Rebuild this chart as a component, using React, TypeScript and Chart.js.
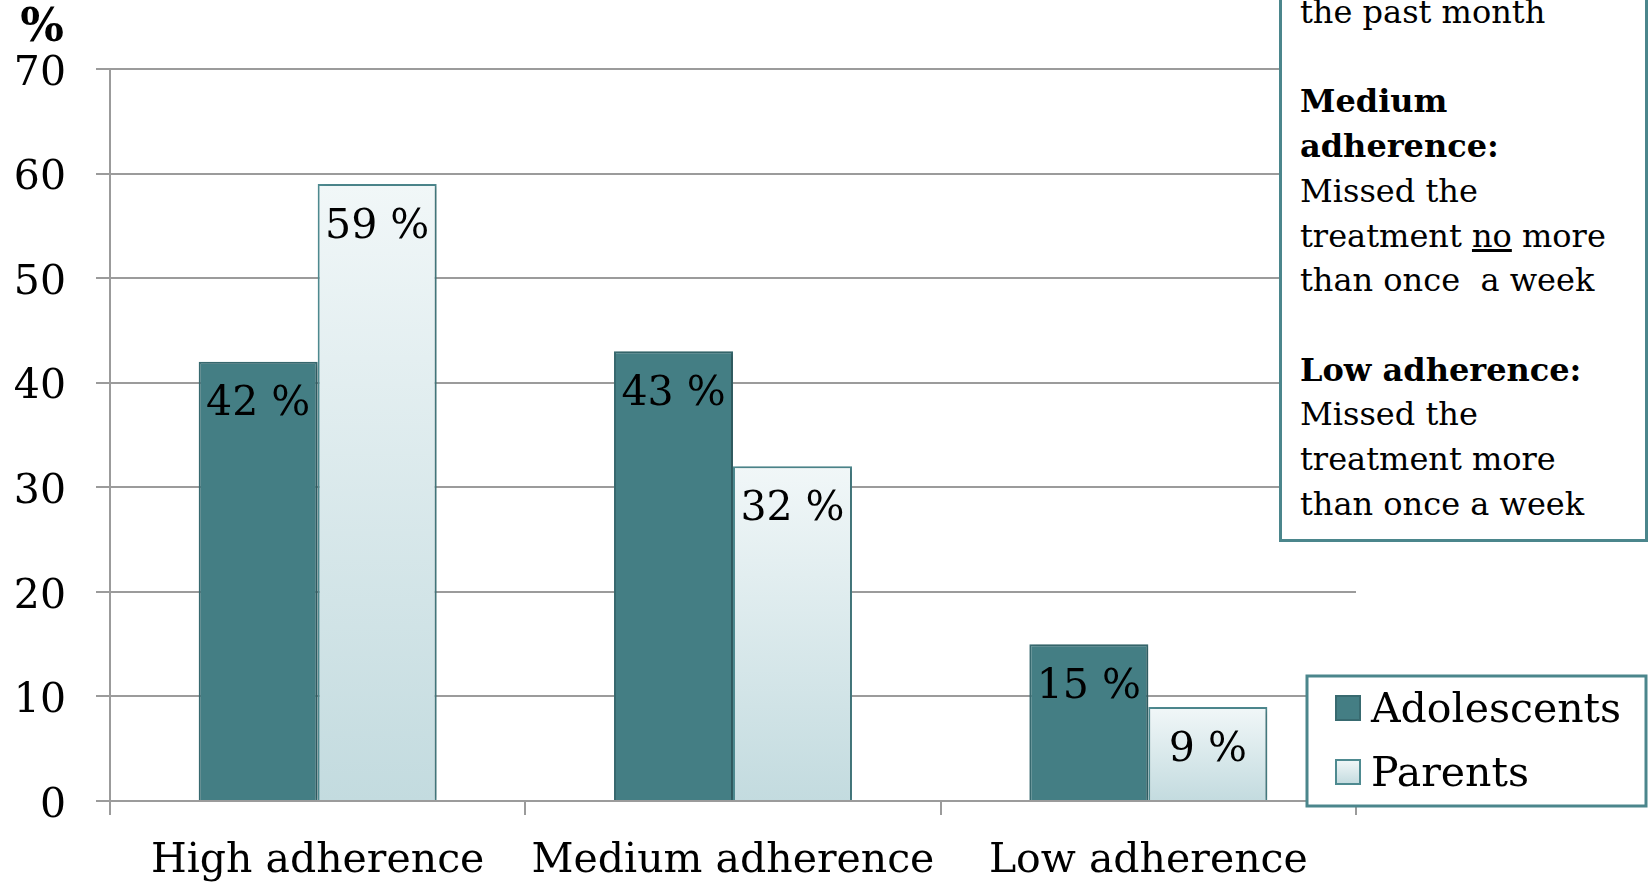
import React, { useEffect, useRef } from "react";
import { Chart, registerables } from "chart.js";

Chart.register(...registerables);

const categories = ["High adherence", "Medium adherence", "Low adherence"];
const seriesNames = ["Adolescents", "Parents"];
const adolescents = [42, 43, 15];
const parents = [59, 32, 9];
const yMin = 0;
const yMax = 70;
const yStep = 10;
const yTitle = "%";

const FONT = '"DejaVu Serif", serif';
const GRID = "#9b9b9b";
const TEAL = "#447e84";
const TEAL_BORDER = "#386a70";
const PARENT_BORDER = "#4e8a90";
const BOX_BORDER = "#4b868c";

function parentGradient(ctx: CanvasRenderingContext2D, top: number, bottom: number) {
  if (!isFinite(top) || !isFinite(bottom) || top === bottom) return "#dcebed";
  const g = ctx.createLinearGradient(0, top, 0, bottom);
  g.addColorStop(0, "#f1f7f8");
  g.addColorStop(1, "#c3dbdf");
  return g;
}

const shadowPlugin = {
  id: "barShadow",
  beforeDatasetDraw(chart: any) {
    const ctx = chart.ctx;
    ctx.save();
    ctx.shadowColor = "rgba(0,0,0,0.2)";
    ctx.shadowBlur = 5;
    ctx.shadowOffsetX = 3;
    ctx.shadowOffsetY = 1;
  },
  afterDatasetDraw(chart: any) {
    chart.ctx.restore();
  },
};

const valueLabelPlugin = {
  id: "valueLabels",
  afterDatasetsDraw(chart: any) {
    const ctx = chart.ctx;
    ctx.save();
    ctx.font = `41px ${FONT}`;
    ctx.fillStyle = "#000";
    ctx.textAlign = "center";
    ctx.textBaseline = "middle";
    chart.data.datasets.forEach((ds: any, i: number) => {
      const meta = chart.getDatasetMeta(i);
      meta.data.forEach((el: any, j: number) => {
        ctx.fillText(`${ds.data[j]} %`, el.x, el.y + 43);
      });
    });
    ctx.restore();
  },
};

const decorPlugin = {
  id: "decor",
  afterDraw(chart: any) {
    const ctx: CanvasRenderingContext2D = chart.ctx;
    ctx.save();
    ctx.font = `bold 46px ${FONT}`;
    ctx.fillStyle = "#000";
    ctx.textAlign = "center";
    ctx.textBaseline = "middle";
    ctx.fillText(yTitle, 42, 29);

    const bx = 1307, by = 676, bw = 339, bh = 130;
    ctx.fillStyle = "#fff";
    ctx.fillRect(bx, by, bw, bh);
    ctx.lineWidth = 3;
    ctx.strokeStyle = BOX_BORDER;
    ctx.strokeRect(bx, by, bw, bh);

    const rows = [708, 772];
    chart.data.datasets.forEach((ds: any, i: number) => {
      const cy = rows[i];
      const mx = 1336, my = cy - 12, ms = 24;
      ctx.fillStyle = i === 0 ? TEAL : (parentGradient(ctx, my, my + ms) as any);
      ctx.fillRect(mx, my, ms, ms);
      ctx.lineWidth = 2;
      ctx.strokeStyle = i === 0 ? TEAL_BORDER : PARENT_BORDER;
      ctx.strokeRect(mx, my, ms, ms);
      ctx.fillStyle = "#000";
      ctx.font = `41px ${FONT}`;
      ctx.textAlign = "left";
      ctx.textBaseline = "middle";
      ctx.fillText(ds.label, 1371, cy + 3);
    });
    ctx.restore();
  },
};

export default function App() {
  const ref = useRef<HTMLCanvasElement | null>(null);

  useEffect(() => {
    if (!ref.current) return;
    const chart = new Chart(ref.current, {
      type: "bar",
      data: {
        labels: categories,
        datasets: [
          {
            label: seriesNames[0],
            data: adolescents,
            backgroundColor: TEAL,
            borderColor: TEAL_BORDER,
            borderWidth: 2,
            categoryPercentage: 0.573,
            barPercentage: 1,
          },
          {
            label: seriesNames[1],
            data: parents,
            backgroundColor: (c: any) => {
              const y = c.chart && c.chart.scales ? c.chart.scales.y : null;
              if (!y || typeof c.raw !== "number") return "#dcebed";
              return parentGradient(c.chart.ctx, y.getPixelForValue(c.raw), y.getPixelForValue(0));
            },
            borderColor: PARENT_BORDER,
            borderWidth: 2,
            categoryPercentage: 0.573,
            barPercentage: 1,
          },
        ],
      },
      options: {
        responsive: false,
        animation: false,
        layout: { padding: { left: 0, top: 69, right: 295, bottom: 0 } },
        plugins: {
          legend: { display: false },
          tooltip: { enabled: false },
          title: { display: false },
        },
        scales: {
          x: {
            afterFit: (s: any) => {
              s.height = 84;
            },
            grid: {
              display: true,
              drawOnChartArea: false,
              drawTicks: true,
              tickLength: 14,
              color: GRID,
              lineWidth: 2,
            },
            border: { display: true, color: GRID, width: 2 },
            ticks: {
              color: "#000",
              font: { family: FONT, size: 41 },
              padding: 22,
              maxRotation: 0,
            },
          },
          y: {
            min: yMin,
            max: yMax,
            afterFit: (s: any) => {
              s.width = 110;
            },
            ticks: {
              stepSize: yStep,
              color: "#000",
              font: { family: FONT, size: 41 },
              padding: 30,
              labelOffset: 5,
            },
            grid: {
              color: GRID,
              lineWidth: 2,
              drawTicks: true,
              tickLength: 14,
            },
            border: { display: true, color: GRID, width: 2 },
          },
        },
      },
      plugins: [shadowPlugin, valueLabelPlugin, decorPlugin],
    } as any);
    return () => chart.destroy();
  }, []);

  return (
    <div
      style={{
        position: "fixed",
        left: 0,
        top: 0,
        width: 1651,
        height: 885,
        overflow: "hidden",
        background: "#fff",
      }}
    >
      <canvas ref={ref} width={1651} height={885} style={{ display: "block" }} />
      <div
        style={{
          position: "absolute",
          left: 1279,
          top: -40,
          width: 369,
          height: 582,
          boxSizing: "border-box",
          border: `3px solid ${BOX_BORDER}`,
          background: "#fff",
          padding: "27px 0 0 18px",
          fontFamily: FONT,
          fontSize: 32,
          lineHeight: "44.7px",
          color: "#000",
          whiteSpace: "pre",
        }}
      >
        <div>the past month</div>
        <div>{" "}</div>
        <div style={{ fontWeight: "bold" }}>Medium</div>
        <div style={{ fontWeight: "bold" }}>adherence:</div>
        <div>Missed the</div>
        <div>
          treatment <u>no</u> more
        </div>
        <div>than once  a week</div>
        <div>{" "}</div>
        <div style={{ fontWeight: "bold" }}>Low adherence:</div>
        <div>Missed the</div>
        <div>treatment more</div>
        <div>than once a week</div>
      </div>
    </div>
  );
}
